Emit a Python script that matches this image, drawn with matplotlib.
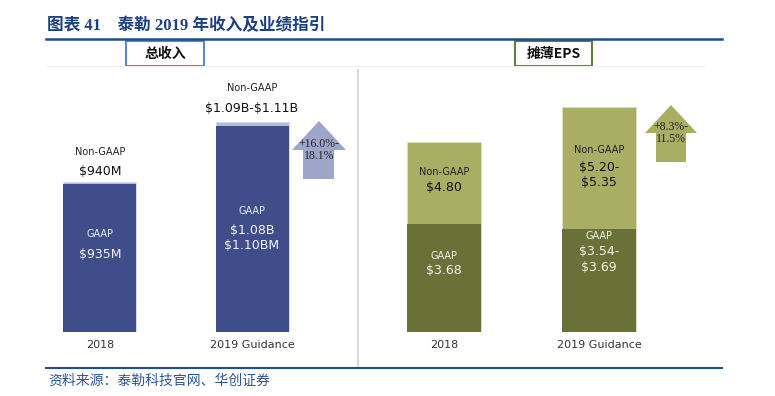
import matplotlib
matplotlib.use('Agg')
import matplotlib.pyplot as plt
import matplotlib.transforms as mtransforms
from matplotlib.patches import Rectangle, Polygon
from matplotlib.lines import Line2D

W, H = 775, 396

# ---- data ----
years = ['2018', '2019 Guidance']
rev_nongaap_lo = [940, 1090]   # $M
rev_nongaap_hi = [940, 1110]
rev_gaap_lo = [935, 1080]
rev_gaap_hi = [935, 1100]
rev_nongaap_txt = ['$940M', '$1.09B-$1.11B']
rev_gaap_txt = ['$935M', '$1.08B\n$1.10BM']
rev_growth_txt = '+16.0%-\n18.1%'

eps_gaap_lo = [3.68, 3.54]
eps_gaap_hi = [3.68, 3.69]
eps_nongaap_lo = [4.80, 5.20]
eps_nongaap_hi = [4.80, 5.35]
eps_gaap_txt = ['$3.68', '$3.54-\n$3.69']
eps_nongaap_txt = ['$4.80', '$5.20-\n$5.35']
eps_growth_txt = '+8.3%-\n11.5%'

mid = lambda lo, hi: [(a + b) / 2 for a, b in zip(lo, hi)]

BLUE_DARK = '#3F4E8A'
BLUE_LIGHT = '#B3BCDC'
BLUE_ARROW = '#9DA6C8'
GREEN_DARK = '#6A7138'
GREEN_LIGHT = '#A9AE64'
TITLE_BLUE = '#1F3F7F'

SANS = 'DejaVu Sans'
CJK = ['Noto Sans CJK SC', 'DejaVu Sans']


def fx(x):
    return x / W


def fy(y):
    return 1 - y / H


fig = plt.figure(figsize=(7.75, 3.96), dpi=100)

# ---- frame lines, title, source ----
fig.add_artist(Line2D([fx(46), fx(722)], [fy(39), fy(39)], color='#1F4E8C', lw=1.8,
                      transform=fig.transFigure))
fig.add_artist(Line2D([fx(46), fx(722)], [fy(368), fy(368)], color='#1F4E8C', lw=1.5,
                      transform=fig.transFigure))
fig.add_artist(Line2D([fx(46), fx(705)], [fy(66), fy(66)], color='#F0F0F0', lw=0.8,
                      transform=fig.transFigure))
fig.add_artist(Line2D([fx(358), fx(358)], [fy(70), fy(366)], color='#DADADA', lw=1.5,
                      transform=fig.transFigure))

fig.text(fx(47), fy(26), '图表 41    泰勒 2019 年收入及业绩指引',
         family=['Liberation Serif', 'Noto Sans CJK SC'], weight='bold', size=12,
         color=TITLE_BLUE, va='center', ha='left')
fig.text(fx(48), fy(381), '资料来源：泰勒科技官网、华创证券', family=CJK, size=10,
         color='#2F5496', style='italic', va='center', ha='left')

# ---- section boxes ----
for (x0, x1, label, ec) in [(126, 204, '总收入', '#5B87CF'), (515, 592, '摊薄EPS', '#5E7D3F')]:
    fig.add_artist(Rectangle((fx(x0), fy(66)), fx(x1) - fx(x0), fy(41) - fy(66),
                             transform=fig.transFigure, fill=False, ec=ec, lw=1.5))
    fig.text(fx((x0 + x1) / 2), fy(54), label, family=CJK, weight='bold', size=10,
             ha='center', va='center', color='#111111')


def style_axis(ax):
    for s in ax.spines.values():
        s.set_visible(False)
    ax.set_yticks([])
    ax.set_xticks(range(len(years)))
    ax.set_xticklabels(years, family=SANS, size=8, color='#333333')
    ax.tick_params(axis='x', length=0, pad=6)
    ax.patch.set_alpha(0)


def up_arrow(tip_x, tip_y, head_y, head_l, head_r, shaft_l, shaft_r, bottom, color):
    pts = [(tip_x, tip_y), (head_r, head_y), (shaft_r, head_y), (shaft_r, bottom),
           (shaft_l, bottom), (shaft_l, head_y), (head_l, head_y)]
    fig.add_artist(Polygon([(fx(a), fy(b)) for a, b in pts], closed=True,
                           transform=fig.transFigure, fc=color, ec='none'))


def label(ax, tr, i, y, s, size, color, ls=1.25):
    ax.text(i, fy(y), s, transform=tr, family=SANS, size=size, ha='center', va='center',
            color=color, linespacing=ls, parse_math=False)


# ---- left panel: revenue ----
ax1 = fig.add_axes([fx(46), fy(332), fx(358) - fx(46), fy(66) - fy(332)])
x = list(range(len(years)))
ax1.bar(x, mid(rev_nongaap_lo, rev_nongaap_hi), width=0.48, color=BLUE_LIGHT,
        edgecolor='#D5DAEC', lw=0.6)
ax1.bar(x, mid(rev_gaap_lo, rev_gaap_hi), width=0.48, color=BLUE_DARK, lw=0)
ax1.set_xlim(-0.355, 1.697)
ax1.set_ylim(540, 1249)
style_axis(ax1)
tr1 = mtransforms.blended_transform_factory(ax1.transData, fig.transFigure)

above_y = [(152, 171), (88, 108)]
inside_y = [(234, 255), (211, 238)]
for i in x:
    label(ax1, tr1, i, above_y[i][0], 'Non-GAAP', 7, '#222222')
    label(ax1, tr1, i, above_y[i][1], rev_nongaap_txt[i], 9, '#111111')
    label(ax1, tr1, i, inside_y[i][0], 'GAAP', 7, '#E8EBF4')
    label(ax1, tr1, i, inside_y[i][1], rev_gaap_txt[i], 9, '#F2F4FA')

up_arrow(319, 121, 150, 292, 346, 303, 334, 179, BLUE_ARROW)
fig.text(fx(319), fy(149.5), rev_growth_txt, family='Liberation Serif', size=8.5,
         ha='center', va='center', color='#222222', linespacing=1.0)

# ---- right panel: diluted EPS ----
ax2 = fig.add_axes([fx(358), fy(332), fx(721) - fx(358), fy(66) - fy(332)])
ax2.bar(x, mid(eps_nongaap_lo, eps_nongaap_hi), width=0.477, color=GREEN_LIGHT,
        edgecolor='#DDE0BE', lw=0.6)
ax2.bar(x, mid(eps_gaap_lo, eps_gaap_hi), width=0.477, color=GREEN_DARK, lw=0)
ax2.set_xlim(-0.555, 1.787)
ax2.set_ylim(2.2, 5.84)
style_axis(ax2)
tr2 = mtransforms.blended_transform_factory(ax2.transData, fig.transFigure)

ng_y = [(172, 188), (150, 175)]
g_y = [(256, 271), (236, 259.5)]
for i in x:
    label(ax2, tr2, i, ng_y[i][0], 'Non-GAAP', 7, '#222222')
    label(ax2, tr2, i, ng_y[i][1], eps_nongaap_txt[i], 9, '#111111')
    label(ax2, tr2, i, g_y[i][0], 'GAAP', 7, '#F0F0E4')
    label(ax2, tr2, i, g_y[i][1], eps_gaap_txt[i], 9, '#F4F4EA')

up_arrow(671, 105, 133, 645, 697, 656, 686, 162, GREEN_LIGHT)
fig.text(fx(671), fy(133.5), eps_growth_txt, family='Liberation Serif', size=8.5,
         ha='center', va='center', color='#222222', linespacing=1.0)

fig.savefig('out.png', dpi=100)
